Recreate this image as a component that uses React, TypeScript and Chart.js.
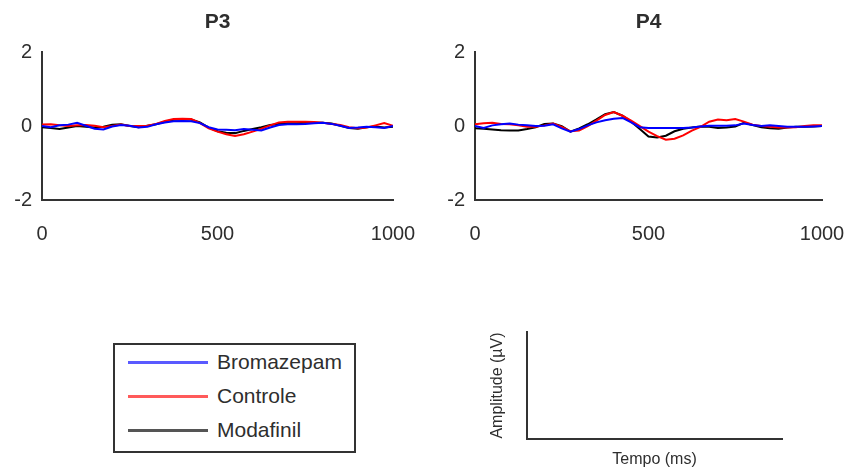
import React, { useEffect, useRef } from "react";
import { Chart, registerables } from "chart.js";

Chart.register(...registerables);

const FONT = '"Liberation Sans", Arial, Helvetica, sans-serif';
const TEXT = "#2e2e2e";
const AXIS = "#333333";

// Time axis (ms)
const TIME_MS = [
  0, 25, 50, 75, 100, 125, 150, 175, 200, 225, 250, 275, 300, 325, 350, 375, 400, 425, 450, 475, 500,
  525, 550, 575, 600, 625, 650, 675, 700, 725, 750, 775, 800, 825, 850, 875, 900, 925, 950, 975, 1000,
];
const X_TICKS = [0, 500, 1000];
const Y_TICKS = [-2, 0, 2];

const SERIES_NAMES = ["Bromazepam", "Controle", "Modafinil"];
const SERIES_COLORS = ["#0000ff", "#ff0000", "#000000"];
const LEGEND_COLORS = ["#5a5aff", "#ff5a5a", "#555555"];

// P3 amplitudes (µV)
const P3_BROMAZEPAM = [
  0.0, -0.03, 0.02, 0.04, 0.09, 0.01, -0.07, -0.09, -0.01, 0.03, 0.01, -0.04, -0.02, 0.05, 0.1, 0.13, 0.14,
  0.13, 0.08, -0.03, -0.09, -0.1, -0.11, -0.08, -0.1, -0.12, -0.04, 0.03, 0.05, 0.05, 0.06, 0.08, 0.09, 0.06,
  0.01, -0.05, -0.04, -0.02, -0.03, -0.05, 0.0,
];
const P3_CONTROLE = [
  0.04, 0.05, 0.02, 0.0, 0.02, 0.03, 0.01, -0.03, 0.0, 0.04, 0.0, 0.0, 0.01, 0.06, 0.14, 0.19, 0.2, 0.19,
  0.08, -0.06, -0.15, -0.22, -0.27, -0.22, -0.15, -0.07, 0.02, 0.1, 0.12, 0.12, 0.12, 0.11, 0.09, 0.06, 0.03,
  -0.03, -0.06, -0.04, 0.02, 0.08, 0.01,
];
const P3_MODAFINIL = [
  -0.03, -0.05, -0.08, -0.04, 0.0, -0.02, -0.04, -0.02, 0.04, 0.05, 0.0, -0.03, 0.01, 0.05, 0.12, 0.17, 0.18,
  0.18, 0.1, -0.04, -0.14, -0.18, -0.19, -0.13, -0.08, -0.03, 0.03, 0.06, 0.08, 0.08, 0.09, 0.09, 0.09, 0.07,
  0.01, -0.05, -0.07, -0.03, -0.01, -0.04, -0.02,
];

// P4 amplitudes (µV)
const P4_BROMAZEPAM = [
  0.0, -0.05, 0.02, 0.05, 0.07, 0.04, 0.02, 0.0, 0.01, 0.05, -0.06, -0.15, -0.08, 0.02, 0.1, 0.16, 0.2, 0.22,
  0.1, -0.03, -0.05, -0.05, -0.05, -0.05, -0.05, -0.04, -0.01, 0.01, 0.01, 0.01, 0.02, 0.07, 0.03, 0.0, 0.02,
  0.0, -0.02, -0.02, -0.02, -0.01, 0.0,
];
const P4_CONTROLE = [
  0.05, 0.08, 0.09, 0.06, 0.05, 0.02, -0.02, -0.02, 0.02, 0.07, -0.02, -0.14, -0.12, 0.0, 0.15, 0.3, 0.38,
  0.28, 0.15, 0.0, -0.15, -0.27, -0.37, -0.34, -0.25, -0.12, -0.02, 0.12, 0.18, 0.16, 0.19, 0.12, 0.04, 0.0,
  -0.02, -0.04, -0.04, -0.03, 0.0, 0.02, 0.02,
];
const P4_MODAFINIL = [
  -0.06, -0.07, -0.09, -0.11, -0.12, -0.12, -0.08, -0.03, 0.06, 0.07, 0.0, -0.15, -0.06, 0.05, 0.18, 0.32,
  0.38, 0.28, 0.12, -0.08, -0.28, -0.31, -0.26, -0.14, -0.07, -0.04, -0.01, -0.02, -0.05, -0.04, -0.01, 0.09,
  0.03, -0.03, -0.06, -0.07, -0.04, -0.02, -0.02, -0.01, 0.0,
];

const MINI_X_TITLE = "Tempo (ms)";
const MINI_Y_TITLE = "Amplitude (µV)";

function toPoints(values: number[]) {
  return values.map((v, i) => ({ x: TIME_MS[i], y: v }));
}

function panelConfig(title: string, series: number[][], rightPad: number): any {
  return {
    type: "line",
    data: {
      datasets: series.map((vals, i) => ({
        label: SERIES_NAMES[i],
        data: toPoints(vals),
        borderColor: SERIES_COLORS[i],
        backgroundColor: SERIES_COLORS[i],
        borderWidth: 2,
        pointRadius: 0,
        tension: 0,
        fill: false,
      })),
    },
    options: {
      responsive: false,
      animation: false,
      devicePixelRatio: 1,
      layout: { padding: { top: 0, right: rightPad, bottom: 0, left: 0 } },
      plugins: {
        legend: { display: false },
        tooltip: { enabled: false },
        title: {
          display: true,
          text: title,
          fullSize: false,
          color: TEXT,
          font: { family: FONT, size: 21, weight: "bold" },
          padding: { top: 10, bottom: 17 },
        },
      },
      scales: {
        x: {
          type: "linear",
          min: 0,
          max: 1000,
          afterFit: (s: any) => {
            s.height = 60;
            s.paddingLeft = 0;
            s.paddingRight = 0;
          },
          afterBuildTicks: (s: any) => {
            s.ticks = X_TICKS.map((v) => ({ value: v }));
          },
          grid: { display: false, drawTicks: false },
          border: { display: true, color: AXIS, width: 2 },
          ticks: {
            color: TEXT,
            padding: 22,
            maxRotation: 0,
            font: { family: FONT, size: 20 },
            callback: (v: any) => String(v),
          },
        },
        y: {
          type: "linear",
          min: -2,
          max: 2,
          afterFit: (s: any) => {
            s.width = 42;
            s.paddingTop = 0;
            s.paddingBottom = 0;
          },
          afterBuildTicks: (s: any) => {
            s.ticks = Y_TICKS.map((v) => ({ value: v }));
          },
          grid: { display: false, drawTicks: false },
          border: { display: true, color: AXIS, width: 2 },
          ticks: {
            color: TEXT,
            padding: 10,
            font: { family: FONT, size: 20 },
            callback: (v: any) => String(v),
          },
        },
      },
    },
  };
}

function miniConfig(): any {
  return {
    type: "line",
    data: { datasets: [] },
    options: {
      responsive: false,
      animation: false,
      devicePixelRatio: 1,
      layout: { padding: { top: 12, right: 18, bottom: 0, left: 0 } },
      plugins: { legend: { display: false }, tooltip: { enabled: false }, title: { display: false } },
      scales: {
        x: {
          type: "linear",
          min: 0,
          max: 1000,
          afterFit: (s: any) => {
            s.height = 31;
            s.paddingLeft = 0;
            s.paddingRight = 0;
          },
          grid: { display: false, drawTicks: false },
          border: { display: true, color: AXIS, width: 2 },
          ticks: { display: false },
          title: {
            display: true,
            text: MINI_X_TITLE,
            color: TEXT,
            font: { family: FONT, size: 16 },
            padding: { top: 0, bottom: 1 },
          },
        },
        y: {
          type: "linear",
          min: -2,
          max: 2,
          afterFit: (s: any) => {
            s.width = 57;
            s.paddingTop = 0;
            s.paddingBottom = 0;
          },
          grid: { display: false, drawTicks: false },
          border: { display: true, color: AXIS, width: 2 },
          ticks: { display: false },
          title: {
            display: true,
            text: MINI_Y_TITLE,
            color: TEXT,
            font: { family: FONT, size: 16 },
            padding: { top: 18, bottom: 0 },
          },
        },
      },
    },
  };
}

function ChartCanvas(props: { config: () => any; left: number; top: number; width: number; height: number }) {
  const ref = useRef<HTMLCanvasElement | null>(null);
  useEffect(() => {
    if (!ref.current) return;
    const chart = new Chart(ref.current, props.config());
    return () => chart.destroy();
  }, []);
  return (
    <canvas
      ref={ref}
      width={props.width}
      height={props.height}
      style={{
        position: "absolute",
        left: props.left,
        top: props.top,
        width: props.width,
        height: props.height,
      }}
    />
  );
}

function Legend() {
  return (
    <div
      style={{
        position: "absolute",
        left: 113,
        top: 343,
        width: 243,
        height: 110,
        boxSizing: "border-box",
        border: `2px solid ${AXIS}`,
        background: "#fff",
      }}
    >
      {SERIES_NAMES.map((name, i) => (
        <div
          key={name}
          style={{
            position: "absolute",
            left: 13,
            top: 2 + i * 34,
            height: 30,
            display: "flex",
            alignItems: "center",
          }}
        >
          <div style={{ width: 80, height: 3, background: LEGEND_COLORS[i] }} />
          <span
            style={{
              marginLeft: 9,
              fontFamily: FONT,
              fontSize: 21,
              color: TEXT,
              lineHeight: "30px",
              whiteSpace: "nowrap",
            }}
          >
            {name}
          </span>
        </div>
      ))}
    </div>
  );
}

export default function App() {
  return (
    <div
      style={{
        position: "fixed",
        left: 0,
        top: 0,
        width: 851,
        height: 474,
        background: "#ffffff",
        overflow: "hidden",
      }}
    >
      <ChartCanvas
        config={() => panelConfig("P3", [P3_BROMAZEPAM, P3_CONTROLE, P3_MODAFINIL], 27)}
        left={0}
        top={0}
        width={420}
        height={260}
      />
      <ChartCanvas
        config={() => panelConfig("P4", [P4_BROMAZEPAM, P4_CONTROLE, P4_MODAFINIL], 29)}
        left={433}
        top={0}
        width={418}
        height={260}
      />
      <Legend />
      <ChartCanvas config={miniConfig} left={470} top={320} width={330} height={150} />
    </div>
  );
}
